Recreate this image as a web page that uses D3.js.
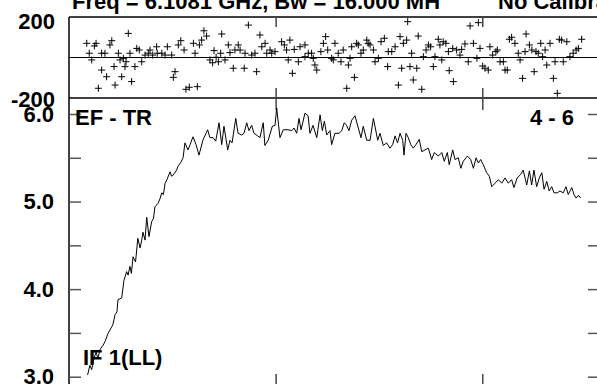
<!DOCTYPE html>
<html>
<head>
<meta charset="utf-8">
<script src="https://cdn.jsdelivr.net/npm/d3@7"></script>
<style>
  body { margin: 0; background: #fff; }
  svg { display: block; }
  text { font-family: "Liberation Sans", Arial, sans-serif; font-weight: bold; fill: #000; }
</style>
</head>
<body>
<div id="container"></div>
<script>
/* CONSTANTS AND GLOBALS */
const width = 597,
  height = 384;

/* DATA */
// x axis is channel number, ticks every 100
const chanTicks = [100, 200];
const phaseTicks = [-200, 200];
const ampTicks = [3.0, 3.5, 4.0, 4.5, 5.0, 5.5, 6.0];

const titleText = "Freq = 6.1081 GHz, Bw = 16.000 MH";
const calText = "No Calibration";
const baselineText = "EF - TR";
const scanText = "4 - 6";
const ifText = "IF 1(LL)";

// amplitude (lower panel)
const ampChannels = [
  9.0,10.1,11.0,11.8,13.1,14.0,15.0,16.5,17.4,19.0,
  20.7,21.3,22.3,23.2,23.7,25.5,26.6,27.9,28.6,29.5,
  30.2,31.0,32.2,33.3,34.4,35.2,35.8,36.8,37.6,38.7,
  40.0,40.9,41.6,43.1,44.0,44.9,45.7,46.5,47.4,48.9,
  49.6,50.3,52.1,52.7,54.2,55.2,56.1,57.6,58.6,60.0,
  61.5,62.9,64.8,66.3,67.1,68.2,69.7,71.0,72.6,73.9,
  75.0,76.8,77.9,78.9,80.7,81.8,83.6,84.7,86.0,87.1,
  88.4,89.5,91.3,92.4,94.0,94.8,96.4,98.4,99.7,100.5,
  102.1,103.7,106.0,107.8,108.9,110.2,111.3,112.3,114.2,115.7,
  116.6,118.1,119.9,121.5,122.6,123.6,124.7,126.3,127.1,128.7,
  130.7,132.0,133.2,134.3,135.5,136.8,138.4,140.0,141.3,142.4,
  144.1,145.7,147.3,149.4,150.5,152.1,153.7,155.3,156.6,157.8,
  159.0,160.2,161.5,162.1,163.1,164.2,165.4,166.6,167.9,169.5,
  170.7,172.3,173.9,175.5,176.8,178.7,180.4,181.6,183.1,184.0,
  185.7,186.8,188.4,189.6,190.8,192.8,194.4,195.7,197.0,198.1,
  199.2,200.5,202.1,203.4,204.6,206.2,207.8,209.4,211.0,212.6,
  214.2,215.3,216.9,218.6,219.8,221.5,222.8,223.9,225.0,226.3,
  227.6,228.8,229.9,231.2,232.4,233.6,234.7,236.3,237.6,239.2,
  240.5,241.6,243.3,244.4,245.4,246.5,247.6
];
const ampValues = [
  3.02,3.13,3.08,3.19,3.28,3.21,3.31,3.36,3.40,3.50,
  3.57,3.60,3.71,3.74,3.88,3.90,4.10,4.20,4.16,4.26,
  4.18,4.37,4.31,4.58,4.47,4.56,4.65,4.56,4.82,4.60,
  4.77,4.81,4.94,4.98,5.03,5.10,5.08,5.21,5.25,5.34,
  5.29,5.30,5.36,5.40,5.45,5.50,5.67,5.59,5.65,5.74,
  5.65,5.53,5.70,5.78,5.82,5.73,5.73,5.69,5.90,5.65,
  5.86,5.59,5.70,5.67,5.95,5.78,5.76,5.78,5.90,5.81,
  5.87,5.78,5.75,5.73,5.90,5.64,5.70,5.86,5.87,6.07,
  5.73,5.82,5.82,5.81,5.84,5.78,5.95,5.82,6.01,5.98,
  5.78,5.87,5.73,5.99,5.81,5.92,5.76,5.81,5.65,5.78,
  5.78,5.81,5.90,5.87,5.81,5.93,5.98,5.84,5.73,5.86,
  5.70,5.70,5.95,5.70,5.78,5.64,5.67,5.61,5.65,5.75,
  5.67,5.78,5.70,5.53,5.78,5.73,5.65,5.61,5.65,5.71,
  5.57,5.59,5.61,5.48,5.56,5.52,5.56,5.46,5.56,5.42,
  5.59,5.48,5.50,5.38,5.46,5.52,5.48,5.38,5.50,5.44,
  5.48,5.42,5.33,5.29,5.17,5.21,5.25,5.21,5.27,5.21,
  5.25,5.16,5.27,5.31,5.36,5.19,5.35,5.19,5.36,5.17,
  5.27,5.33,5.14,5.23,5.12,5.17,5.10,5.10,5.12,5.10,
  5.17,5.08,5.16,5.08,5.04,5.07,5.04
];

// phase (upper panel), degrees
const phaseChannels = [
  8.6,9.8,11.0,12.3,13.1,15.8,17.4,15.8,18.2,14.2,19.8,20.7,21.8,22.3,25.5,27.1,30.3,28.7,23.9,24.7,
  26.3,27.6,29.5,31.9,32.8,34.0,35.2,36.8,38.4,39.2,40.5,42.4,42.7,44.9,46.5,47.6,49.7,51.3,50.5,52.9,
  54.1,55.7,56.6,58.2,60.2,61.0,62.1,63.1,64.2,65.3,66.6,73.9,68.2,69.5,70.2,71.2,72.3,73.4,75.5,77.1,
  77.9,79.5,80.3,81.9,
  86.8,84.8,90.8,82.8,85.2,88.4,90.0,92.4,93.3,94.9,95.7,97.3,98.1,99.7,102.9,104.2,106.9,105.3,106.1,108.1,
  109.0,111.0,111.8,114.2,114.2,115.8,117.4,118.2,119.0,119.9,121.9,123.1,124.2,125.2,127.1,128.7,127.9,130.3,131.6,132.7,
  134.4,135.2,136.0,136.8,138.1,139.2,140.0,141.3,142.4,144.1,144.8,145.7,147.3,148.1,149.7,151.0,152.6,154.2,154.5,156.2,
  157.8,159.4,160.2,161.0,161.8,163.4,163.9,165.0,165.8,166.6,
  194.1,198.1,169.0,168.3,170.7,171.5,172.8,173.9,175.0,176.3,177.1,178.7,179.5,180.4,181.1,182.4,183.6,184.0,186.0,185.7,
  187.6,189.2,190.0,191.6,193.2,195.7,197.4,198.9,200.2,201.3,202.9,203.7,205.0,206.6,207.3,208.6,210.2,211.0,212.1,213.1,
  214.2,215.8,217.4,218.3,219.5,220.7,221.2,222.8,224.0,225.1,226.0,227.1,228.3,229.2,230.4,231.2,232.8,234.4,235.2,236.3,
  237.3,238.4,239.2,240.9,242.4,244.0,245.4,246.5,248.1
];
const phaseValues = [
  70,21,-12,57,70,21,21,-62,-95,-152,62,83,-45,-136,-95,-45,-119,119,21,-12,
  -4,-21,21,-45,45,37,-21,12,21,37,12,53,21,21,12,53,12,-70,-98,62,
  83,37,-157,-147,70,21,-144,62,86,132,106,116,-12,-26,34,1,-21,21,-12,62,
  24,-53,37,62,
  160,-53,-70,37,21,12,21,111,53,70,21,37,21,29,78,62,86,37,-12,-78,
  40,-21,53,62,4,21,21,-4,-37,-62,29,70,103,37,-4,70,-12,21,-21,37,
  -152,-37,-4,53,-98,70,62,21,37,86,70,62,37,-21,-4,78,95,-45,29,29,
  53,-136,103,-53,70,86,177,-45,21,-111,
  156,172,106,-53,-157,4,37,62,53,-45,4,90,62,-12,78,70,29,-65,-119,45,
  37,12,40,67,-21,70,-4,45,-42,-53,-62,53,12,29,37,-21,-21,-62,-62,90,
  100,70,21,-12,-103,29,116,62,37,-70,29,21,70,4,37,-37,70,-103,-21,-177,
  90,86,-21,78,4,21,37,45,90
];

let xScale, phaseScale, ampScale;

/* INITIALIZING FUNCTION */
function init() {
  // channel scale shared by both panels
  xScale = d3.scaleLinear()
    .domain([0, 256])
    .range([69, 598]);

  phaseScale = d3.scaleLinear()
    .domain([-200, 200])
    .range([98, 17]);

  ampScale = d3.scaleLinear()
    .domain([3, 6])
    .range([376.7, 114]);

  draw();
}

function styleAxis(g, color) {
  g.select(".domain").remove();
  g.selectAll(".tick line").attr("stroke", color).attr("stroke-width", 1.5);
  g.selectAll(".tick text")
    .attr("font-family", null)
    .attr("font-size", null)
    .style("font-size", "22px");
}

/* DRAW FUNCTION */
function draw() {
  const svg = d3.select("#container")
    .append("svg")
    .attr("width", width)
    .attr("height", height);

  // title, runs off the top and right of the page
  svg.append("text")
    .attr("x", 72)
    .attr("y", 9)
    .style("font-size", "22px")
    .text(titleText);
  svg.append("text")
    .attr("x", 498)
    .attr("y", 9)
    .style("font-size", "22px")
    .text(calText);

  // frame
  svg.append("line")
    .attr("x1", 69).attr("x2", 69)
    .attr("y1", 17).attr("y2", height)
    .attr("stroke", "#000").attr("stroke-width", 1.5);
  svg.append("line")
    .attr("x1", 69).attr("x2", width)
    .attr("y1", 17).attr("y2", 17)
    .attr("stroke", "#000").attr("stroke-width", 1.5);
  svg.append("line")
    .attr("x1", 69).attr("x2", width)
    .attr("y1", 98).attr("y2", 98)
    .attr("stroke", "#000").attr("stroke-width", 1.5);
  // zero phase line
  svg.append("line")
    .attr("x1", 69).attr("x2", width)
    .attr("y1", phaseScale(0)).attr("y2", phaseScale(0))
    .attr("stroke", "#000").attr("stroke-width", 1.2);

  // x ticks on each edge of both panels
  svg.append("g")
    .attr("transform", "translate(0,17)")
    .call(d3.axisBottom(xScale).tickValues(chanTicks).tickSize(10).tickFormat(""))
    .call(g => styleAxis(g, "#444"));
  svg.append("g")
    .attr("transform", "translate(0,98)")
    .call(d3.axisTop(xScale).tickValues(chanTicks).tickSize(10).tickFormat(""))
    .call(g => styleAxis(g, "#444"));
  svg.append("g")
    .attr("transform", "translate(0,98)")
    .call(d3.axisBottom(xScale).tickValues(chanTicks).tickSize(12).tickFormat(""))
    .call(g => styleAxis(g, "#444"));
  svg.append("g")
    .attr("transform", "translate(0,386)")
    .call(d3.axisTop(xScale).tickValues(chanTicks).tickSize(12).tickFormat(""))
    .call(g => styleAxis(g, "#444"));

  // phase labels (plain hyphen for the minus, as in the original)
  svg.append("g")
    .attr("transform", "translate(69,0)")
    .call(d3.axisLeft(phaseScale).tickValues(phaseTicks).tickSize(0).tickPadding(14)
      .tickFormat(d => String(d)))
    .call(g => styleAxis(g, "#444"))
    .call(g => g.selectAll(".tick text").attr("dy", d => d > 0 ? "0.5em" : "0.4em"));

  // amplitude axis, ticks point inwards
  svg.append("g")
    .attr("transform", "translate(69,0)")
    .call(d3.axisLeft(ampScale)
      .tickValues(ampTicks)
      .tickSize(-12)
      .tickPadding(15)
      .tickFormat(d => d % 1 === 0 ? d3.format(".1f")(d) : ""))
    .call(g => styleAxis(g, "#555"));
  svg.append("g")
    .attr("transform", "translate(600,0)")
    .call(d3.axisRight(ampScale).tickValues(ampTicks).tickSize(-12).tickFormat(""))
    .call(g => styleAxis(g, "#555"));

  // panel labels
  svg.append("text").attr("x", 75).attr("y", 125).style("font-size", "22px").text(baselineText);
  svg.append("text").attr("x", 574).attr("y", 125).attr("text-anchor", "end").style("font-size", "22px").text(scanText);
  svg.append("text").attr("x", 83).attr("y", 365).style("font-size", "22px").text(ifText);

  // phase points as plus signs
  const phase = phaseChannels.map((c, i) => ({ chan: c, val: phaseValues[i] }));
  svg.append("g")
    .selectAll("path")
    .data(phase)
    .join("path")
    .attr("transform", d => `translate(${xScale(d.chan)},${phaseScale(d.val)})`)
    .attr("d", "M-3.5,0H3.5M0,-3.5V3.5")
    .attr("stroke", "#000")
    .attr("stroke-width", 1);

  // amplitude line
  const amp = ampChannels.map((c, i) => ({ chan: c, val: ampValues[i] }));
  svg.append("path")
    .datum(amp)
    .attr("fill", "none")
    .attr("stroke", "#000")
    .attr("stroke-width", 1)
    .attr("d", d3.line().x(d => xScale(d.chan)).y(d => ampScale(d.val)));
}

init();
</script>
</body>
</html>
